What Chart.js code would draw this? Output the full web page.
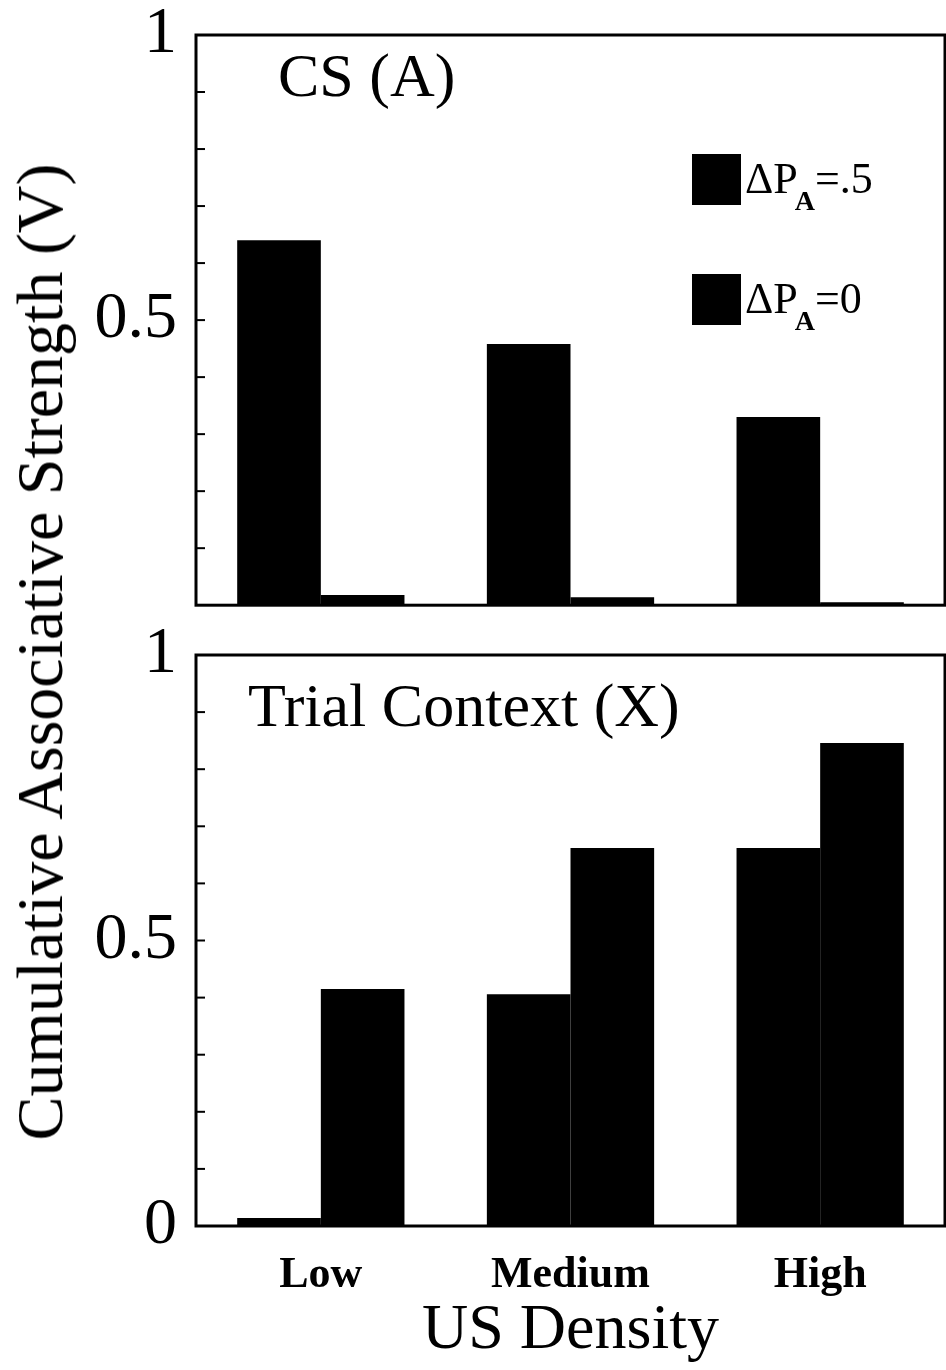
<!DOCTYPE html>
<html>
<head>
<meta charset="utf-8">
<script src="https://cdn.jsdelivr.net/npm/chart.js@4/dist/chart.umd.min.js"></script>
<style>
  body { margin: 0; background: #fff; width: 946px; height: 1370px; position: relative; overflow: hidden; }
  .panel { position: absolute; left: 0; width: 946px; }
  #yTitle {
    position: absolute; left: 40px; top: 652px;
    transform: translate(-50%, -50%) rotate(-90deg);
    white-space: nowrap; font: 66px "Liberation Serif", serif; color: #000;
  }
</style>
</head>
<body>
<div class="panel" style="top:0;height:636px"><canvas id="csChart"></canvas></div>
<div class="panel" style="top:615px;height:755px"><canvas id="contextChart"></canvas></div>
<div id="yTitle">Cumulative Associative Strength (V)</div>
<script>
// data
const densityLevels = ["Low", "Medium", "High"];
const legendValues = [".5", "0"];          // ΔP_A = .5 / ΔP_A = 0
const csHalf = [0.64, 0.458, 0.33];
const csZero = [0.018, 0.014, 0.005];
const contextHalf = [0.014, 0.406, 0.662];
const contextZero = [0.415, 0.662, 0.846];
const csTickLabels = [1, 0.5];
const contextTickLabels = [1, 0.5, 0];

const serif = "'Liberation Serif', 'Times New Roman', serif";

function drawLegendEntry(ctx, x, y, value) {
  ctx.fillStyle = "#000";
  ctx.fillRect(x, y, 49, 51);
  const base = y + 39;
  let tx = x + 53;
  ctx.textBaseline = "alphabetic";
  ctx.textAlign = "left";
  ctx.font = "44px " + serif;
  ctx.fillText("ΔP", tx, base);
  tx += ctx.measureText("ΔP").width - 3;
  ctx.font = "bold 28px " + serif;
  ctx.fillText("A", tx, base + 17);
  tx += ctx.measureText("A").width;
  ctx.font = "44px " + serif;
  ctx.fillText("=" + value, tx, base);
}

const panelDecor = {
  id: "panelDecor",
  afterDraw(chart, args, opts) {
    const { ctx, chartArea: a } = chart;
    const y = chart.scales.y;
    ctx.save();
    ctx.strokeStyle = "#000";
    ctx.lineWidth = 3;
    ctx.strokeRect(a.left, a.top, a.right - a.left, a.bottom - a.top);
    ctx.lineWidth = 2;
    for (let i = 1; i < 10; i++) {
      const py = y.getPixelForValue(i / 10);
      ctx.beginPath();
      ctx.moveTo(a.left, py);
      ctx.lineTo(a.left + 9, py);
      ctx.stroke();
    }
    ctx.fillStyle = "#000";
    ctx.font = "62px " + serif;
    ctx.textAlign = "left";
    ctx.textBaseline = "middle";
    ctx.fillText(opts.title, a.left + opts.titleX, a.top + opts.titleY);
    if (opts.legend) {
      legendValues.forEach((v, i) => drawLegendEntry(ctx, a.left + 496, a.top + 119 + i * 120, v));
    }
    ctx.restore();
  }
};

function makePanel(id, half, zero, tickLabels, decor, showX) {
  return new Chart(id, {
    type: "bar",
    data: {
      labels: densityLevels,
      datasets: [
        { label: "ΔPA=.5", data: half, backgroundColor: "#000", categoryPercentage: 0.67, barPercentage: 1 },
        { label: "ΔPA=0", data: zero, backgroundColor: "#000", categoryPercentage: 0.67, barPercentage: 1 }
      ]
    },
    options: {
      responsive: true,
      maintainAspectRatio: false,
      animation: false,
      layout: { padding: showX ? { top: 40, right: 1, bottom: 0, left: 0 } : { top: 35, right: 1, bottom: 0, left: 0 } },
      plugins: { legend: { display: false }, tooltip: { enabled: false }, panelDecor: decor },
      scales: {
        x: {
          display: showX,
          grid: { display: false },
          border: { display: false },
          ticks: { color: "#000", padding: 15, font: { family: serif, size: 44, weight: "bold" } },
          title: { display: true, text: "US Density", color: "#000", padding: 0, font: { family: serif, size: 64 } },
          afterFit(axis) { if (showX) axis.height = 144; }
        },
        y: {
          min: 0, max: 1,
          grid: { display: false },
          border: { display: false },
          ticks: {
            stepSize: 0.1, color: "#000", padding: 11, autoSkip: false,
            font: { family: serif, size: 66, lineHeight: 0.6 },
            callback: (v) => tickLabels.some(t => Math.abs(t - v) < 1e-6) ? String(+v.toFixed(1)) : ""
          },
          afterFit(axis) { axis.width = 196; }
        }
      }
    },
    plugins: [panelDecor]
  });
}

makePanel("csChart", csHalf, csZero, csTickLabels, { title: "CS (A)", titleX: 82, titleY: 45, legend: true }, false);
makePanel("contextChart", contextHalf, contextZero, contextTickLabels, { title: "Trial Context (X)", titleX: 52, titleY: 55, legend: false }, true);
</script>
</body>
</html>
